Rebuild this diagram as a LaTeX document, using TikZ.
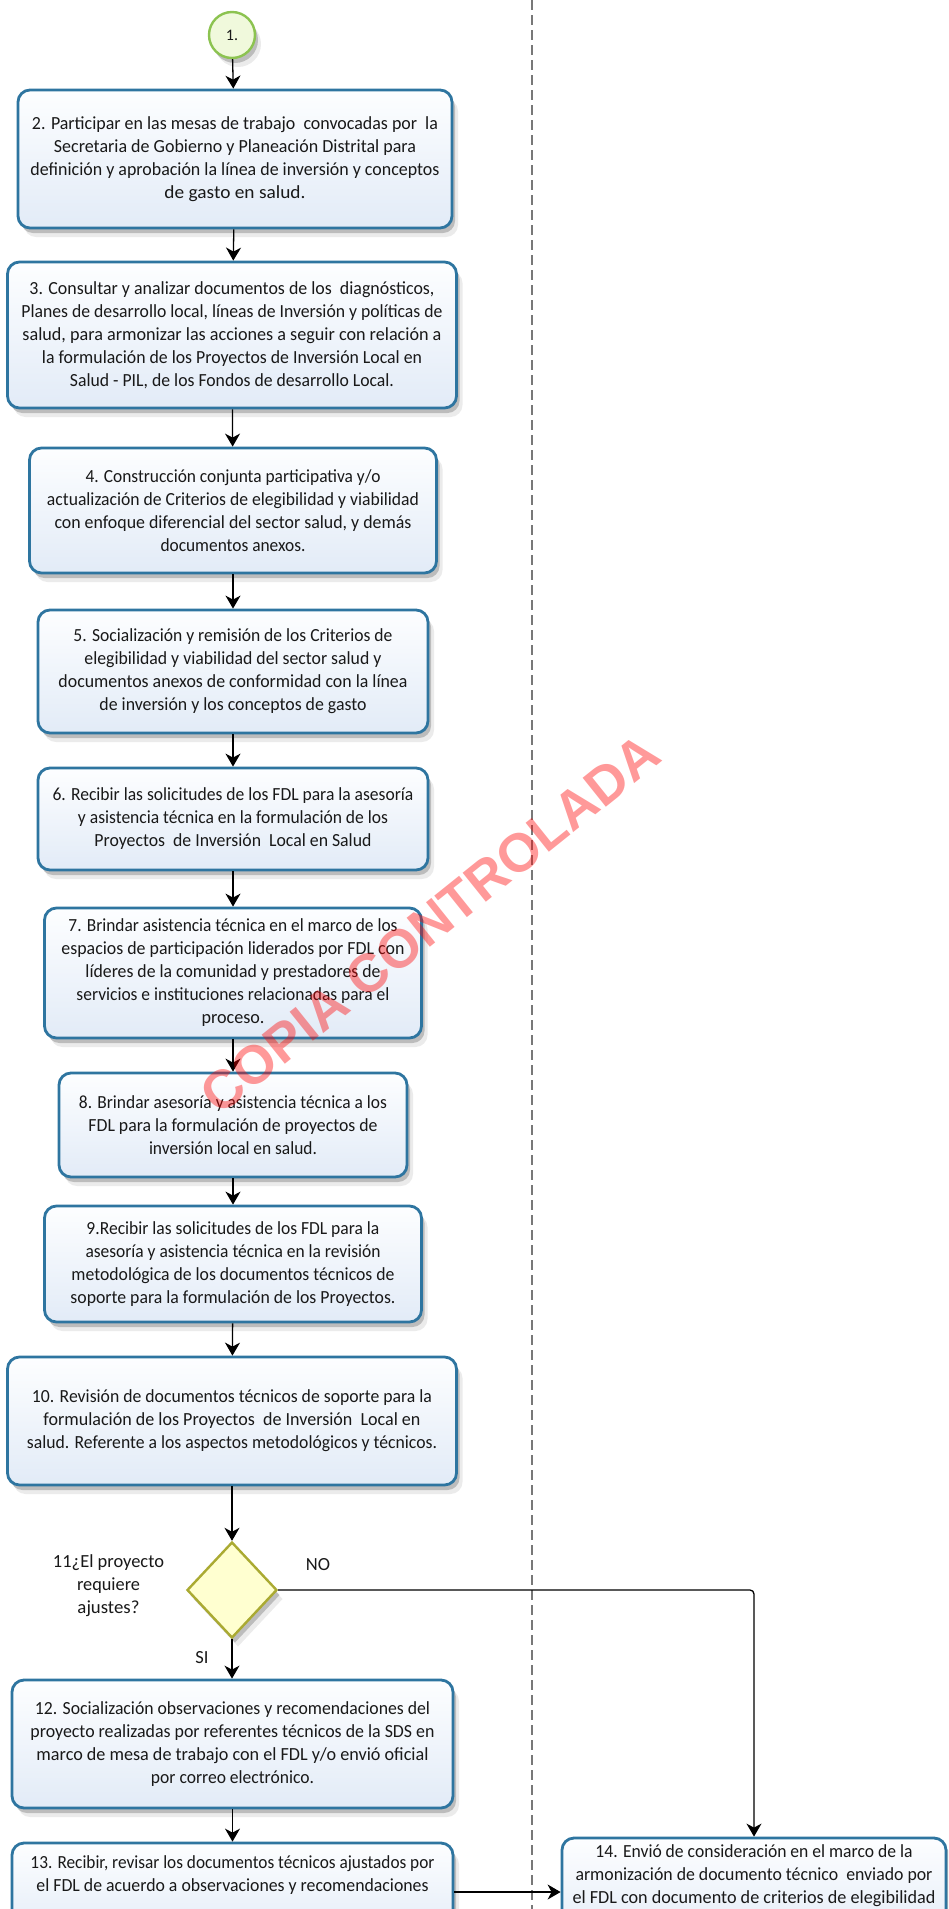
\documentclass[tikz,border=0pt]{standalone}
\usepackage{fontspec}
\setmainfont{Carlito}
\newfontfamily\wmfont{Liberation Sans}
\usetikzlibrary{shapes.geometric,shadows,arrows.meta}

\definecolor{boxborder}{RGB}{46,117,160}
\definecolor{boxtop}{RGB}{253,254,255}
\definecolor{boxbot}{RGB}{226,235,247}
\definecolor{decborder}{RGB}{170,170,50}
\definecolor{decfill}{RGB}{255,255,208}
\definecolor{startborder}{RGB}{140,195,80}
\definecolor{startfill}{RGB}{240,249,220}
\definecolor{txt}{RGB}{25,25,25}
\definecolor{lanecol}{RGB}{120,120,120}

% one printed line, stretched or squeezed to the width it has in the reference
\newcommand{\fitline}[2]{\resizebox{#1pt}{\height}{#2}}

\tikzset{
  shadowed/.style={
    drop shadow={shadow xshift=3pt,shadow yshift=-5pt,opacity=.20,fill=black},
    drop shadow={shadow xshift=6pt,shadow yshift=-9pt,opacity=.08,fill=black}},
  boxfont/.style={font=\fontsize{18.5}{23}\selectfont, text=txt},
  taskbox/.style={shadowed, rectangle, rounded corners=12pt, draw=boxborder,
    line width=2.8pt, top color=boxtop, bottom color=boxbot, align=center,
    boxfont, inner sep=0pt},
  boxtext/.style={boxfont, align=center, inner sep=0pt},
  decbox/.style={shadowed, diamond, aspect=0.94, minimum width=90pt,
    minimum height=96pt, inner sep=0pt, draw=decborder, line width=2.4pt,
    fill=decfill},
  startev/.style={shadowed, circle, minimum size=46pt, inner sep=0pt,
    draw=startborder, line width=2.4pt, fill=startfill,
    font=\fontsize{16}{16}\selectfont, text=txt},
  lbl/.style={boxfont, align=center, inner sep=0pt},
  arr/.style={draw=black, line width=1.3pt, -{Stealth[length=13pt,width=15pt,inset=4pt]}},
  lane/.style={draw=lanecol, line width=1.3pt, dash pattern=on 10pt off 5pt},
  wm/.style={rotate=38.7, font=\wmfont\bfseries\fontsize{54}{54}\selectfont, text=red,
    text opacity=0.40, inner sep=0pt}
}

\begin{document}
\begin{tikzpicture}[x=1pt,y=-1pt]
\useasboundingbox (0,0) rectangle (948,1909);
\clip (0,0) rectangle (948,1909);
\fill[white] (0,0) rectangle (948,1909);

% lane separator
\coordinate (laneTop) at (532,0);
\coordinate (laneBot) at (532,1909);
\draw[lane] (laneTop) -- (laneBot);

% start event
\node[startev] (s1) at (232,35) {1.};

% tasks
\node[taskbox, minimum width=434pt, minimum height=138pt] (b2) at (235,159)
 {\fitline{406}{2. Participar en las mesas de trabajo \ convocadas por \ la}\\
  \fitline{362}{Secretaria de Gobierno y Planeación Distrital para}\\
  \fitline{409}{definición y aprobación la línea de inversión y conceptos}\\
  \fitline{141}{de gasto en salud.}};

\node[taskbox, minimum width=449pt, minimum height=146pt] (b3) at (232,335)
 {\fitline{405}{3. Consultar y analizar documentos de los \ diagnósticos,}\\
  \fitline{421}{Planes de desarrollo local, líneas de Inversión y políticas de}\\
  \fitline{419}{salud, para armonizar las acciones a seguir con relación a}\\
  \fitline{380}{la formulación de los Proyectos de Inversión Local en}\\
  \fitline{324}{Salud - PIL, de los Fondos de desarrollo Local.}};

\node[taskbox, minimum width=407pt, minimum height=125pt] (b4) at (233,510.5)
 {\fitline{295}{4. Construcción conjunta participativa y/o}\\
  \fitline{372}{actualización de Criterios de elegibilidad y viabilidad}\\
  \fitline{357}{con enfoque diferencial del sector salud, y demás}\\
  \fitline{145}{documentos anexos.}};

\node[taskbox, minimum width=390pt, minimum height=123pt] (b5) at (233,671.5)
 {\fitline{319}{5. Socialización y remisión de los Criterios de}\\
  \fitline{297}{elegibilidad y viabilidad del sector salud y}\\
  \fitline{349}{documentos anexos de conformidad con la línea}\\
  \fitline{267}{de inversión y los conceptos de gasto}};

\node[taskbox, minimum width=390pt, minimum height=102pt] (b6) at (233,819)
 {\fitline{361}{6. Recibir las solicitudes de los FDL para la asesoría}\\
  \fitline{310}{y asistencia técnica en la formulación de los}\\
  \fitline{277}{Proyectos \ de Inversión \ Local en Salud}};

\node[taskbox, minimum width=377pt, minimum height=130pt] (b7) at (233,973)
 {\fitline{329}{7. Brindar asistencia técnica en el marco de los}\\
  \fitline{343}{espacios de participación liderados por FDL con}\\
  \fitline{295}{líderes de la comunidad y prestadores de}\\
  \fitline{313}{servicios e instituciones relacionadas para el}\\
  \fitline{63}{proceso.}};

\node[taskbox, minimum width=348pt, minimum height=104pt] (b8) at (233,1125)
 {\fitline{308}{8. Brindar asesoría y asistencia técnica a los}\\
  \fitline{289}{FDL para la formulación de proyectos de}\\
  \fitline{168}{inversión local en salud.}};

\node[taskbox, minimum width=377pt, minimum height=116pt] (b9) at (233,1264)
 {\fitline{293}{9.Recibir las solicitudes de los FDL para la}\\
  \fitline{295}{asesoría y asistencia técnica en la revisión}\\
  \fitline{323}{metodológica de los documentos técnicos de}\\
  \fitline{325}{soporte para la formulación de los Proyectos.}};

\node[taskbox, minimum width=449pt, minimum height=128pt] (b10) at (232,1421)
 {\fitline{400}{10. Revisión de documentos técnicos de soporte para la}\\
  \fitline{377}{formulación de los Proyectos \ de Inversión \ Local en}\\
  \fitline{410}{salud. Referente a los aspectos metodológicos y técnicos.}};

% decision
\node[decbox] (d11) at (232,1590) {};
\node[lbl] (q11) at (108.5,1586)
 {\fitline{111}{11¿El proyecto}\\\fitline{63}{requiere}\\\fitline{62}{ajustes?}};

\node[taskbox, minimum width=441pt, minimum height=128pt] (b12) at (232.5,1744)
 {\fitline{395}{12. Socialización observaciones y recomendaciones del}\\
  \fitline{404}{proyecto realizadas por referentes técnicos de la SDS en}\\
  \fitline{392}{marco de mesa de trabajo con el FDL y/o envió oficial}\\
  \fitline{163}{por correo electrónico.}};

\node[taskbox, minimum width=441pt, minimum height=98pt] (b13) at (232.5,1892) {};
\node[boxtext, anchor=north] (t13) at ([yshift=-14pt]b13.north)
 {\fitline{404}{13. Recibir, revisar los documentos técnicos ajustados por}\\
  \fitline{392}{el FDL de acuerdo a observaciones y recomendaciones}};

\node[taskbox, minimum width=384pt, minimum height=108pt] (b14) at (754,1892) {};
\node[boxtext, anchor=north] (t14) at ([yshift=-8pt]b14.north)
 {\fitline{317}{14. Envió de consideración en el marco de la}\\
  \fitline{357}{armonización de documento técnico \ enviado por}\\
  \fitline{363}{el FDL con documento de criterios de elegibilidad}};

% connectors
\draw[arr] (s1) -- (b2);
\draw[arr] (b2) -- (b3);
\draw[arr] (b3) -- (b4);
\draw[arr] (b4) -- (b5);
\draw[arr] (b5) -- (b6);
\draw[arr] (b6) -- (b7);
\draw[arr] (b7) -- (b8);
\draw[arr] (b8) -- (b9);
\draw[arr] (b9) -- (b10);
\draw[arr] (b10.south -| d11.north) -- (d11.north);
\draw[arr] (d11.south) -- (d11.south |- b12.north);
\draw[arr, rounded corners=4pt] (d11.east) -| (b14.north);
\draw[arr] (b12.south -| b13.north) -- (b13.north);
\draw[arr] (b13.east) -- (b14.west);

\node[lbl] (no) at (318,1565) {NO};
\node[lbl] (si) at (202,1658) {SI};

% watermark
\node[wm] (wmark) at (430,924) {COPIA CONTROLADA};
\end{tikzpicture}
\end{document}
